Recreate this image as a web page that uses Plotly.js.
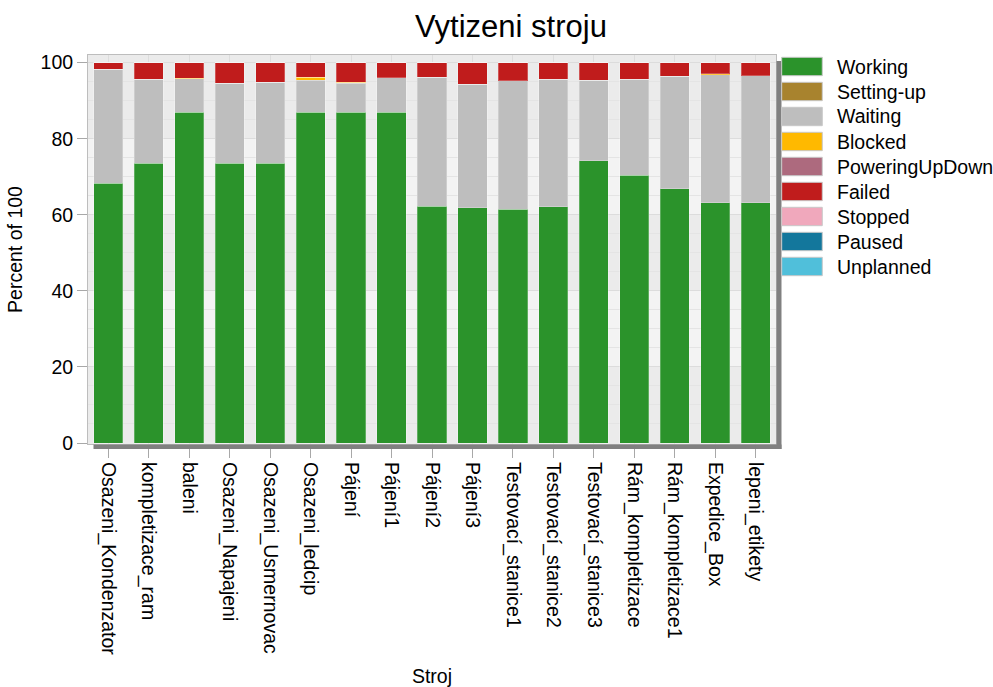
<!DOCTYPE html>
<html>
<head>
<meta charset="utf-8">
<script src="https://cdn.plot.ly/plotly-3.0.1.min.js"></script>
<style>html,body{margin:0;padding:0;background:#fff;}#chart{width:993px;height:687px;}</style>
</head>
<body>
<div id="chart"></div>
<script>
// ---- data ----
const categories = ["Osazeni_Kondenzator","kompletizace_ram","baleni","Osazeni_Napajeni","Osazeni_Usmernovac","Osazeni_ledcip","Pájení","Pájení1","Pájení2","Pájení3","Testovací_stanice1","Testovací_stanice2","Testovací_stanice3","Rám_kompletizace","Rám_kompletizace1","Expedice_Box","lepeni_etikety"];
const working        = [68.3,73.6,86.9,73.6,73.6,86.9,86.9,86.9,62.3,61.8,61.5,62.1,74.2,70.4,66.8,63.2,63.2];
const settingUp      = [0,0,0,0,0,0,0,0,0,0,0,0,0,0,0,0,0];
const waiting        = [30.0,22.0,8.8,21.0,21.3,8.4,7.7,9.1,33.8,32.5,33.7,33.5,21.1,25.2,29.6,33.6,33.4];
const blocked        = [0,0,0.2,0,0,0.9,0.25,0,0,0,0,0,0,0,0,0.3,0];
const poweringUpDown = [0,0,0,0,0,0,0,0,0,0,0,0,0,0,0,0,0];
const failed         = [1.7,4.4,4.1,5.4,5.1,3.8,5.15,4.0,3.9,5.7,4.8,4.4,4.7,4.4,3.6,2.9,3.4];
const stopped        = [0,0,0,0,0,0,0,0,0,0,0,0,0,0,0,0,0];
const paused         = [0,0,0,0,0,0,0,0,0,0,0,0,0,0,0,0,0];
const unplanned      = [0,0,0,0,0,0,0,0,0,0,0,0,0,0,0,0,0];
const seriesNames  = ["Working","Setting-up","Waiting","Blocked","PoweringUpDown","Failed","Stopped","Paused","Unplanned"];
const seriesValues = [working,settingUp,waiting,blocked,poweringUpDown,failed,stopped,paused,unplanned];
const seriesColors = ["#2b932b","#a8832e","#bebebe","#ffb900","#ad6a7e","#c01c1c","#f0a8bc","#13779c","#50bfda"];
const yTicks = [0,20,40,60,80,100];

// ---- layout geometry ----
const W = 993, H = 687;
const M = {l: 87.5, r: 217, t: 55, b: 243};
const pw = W - M.l - M.r, ph = H - M.t - M.b;
const FONT = "Liberation Sans, Arial, sans-serif";
const FS = 19.5;

const traces = seriesNames.map((n, i) => ({
  type: "bar", name: n, x: categories, y: seriesValues[i],
  marker: {color: seriesColors[i], line: {color: "rgba(255,255,255,0.25)", width: 1}},
  showlegend: false, hoverinfo: "x+y+name"
}));

const shapes = [];
// alternating background bands
const yTop = 102.0, yBot = -0.26;
for (let k = 0; k < yTicks.length - 1; k += 2) {
  const lo = k === 0 ? yBot : yTicks[k];
  const hi = yTicks[k + 1];
  shapes.push({type: "rect", xref: "paper", yref: "y", x0: 0, x1: 1, y0: lo, y1: hi, fillcolor: "#ebebeb", line: {width: 0}, layer: "below"});
}
shapes.push({type: "rect", xref: "paper", yref: "y", x0: 0, x1: 1, y0: 100, y1: yTop, fillcolor: "#ebebeb", line: {width: 0}, layer: "below"});
// drop shadow
const sh = 5;
shapes.push({type: "rect", xref: "paper", yref: "paper", x0: 1 + 0.5/pw, x1: 1 + (sh+0.5)/pw, y0: -sh/ph, y1: 1 - 6/ph, fillcolor: "#808080", line: {width: 0}, layer: "above"});
shapes.push({type: "rect", xref: "paper", yref: "paper", x0: 5.5/pw, x1: 1 + (sh+0.5)/pw, y0: -sh/ph, y1: -0.5/ph, fillcolor: "#808080", line: {width: 0}, layer: "above"});

// custom legend (swatches + labels built from series arrays)
const annotations = [];
const legX0 = 781.7, legX1 = 822.3, legTop = 57.3, legH = 18.4, legStep = 25, legTextX = 835;
seriesNames.forEach((n, i) => {
  const top = legTop + legStep * i;
  shapes.push({type: "rect", xref: "paper", yref: "paper",
    x0: (legX0 - M.l) / pw, x1: (legX1 - M.l) / pw,
    y0: (H - M.b - (top + legH)) / ph, y1: (H - M.b - top) / ph,
    fillcolor: seriesColors[i], line: {color: "#c8c8c8", width: 1}, layer: "above"});
  annotations.push({xref: "paper", yref: "paper", x: (legTextX - M.l) / pw, y: (H - M.b - (top + legH / 2)) / ph,
    xanchor: "left", yanchor: "middle", text: n, showarrow: false, font: {family: FONT, size: FS, color: "#000"}});
});

const layout = {
  width: W, height: H, margin: M,
  paper_bgcolor: "#fff", plot_bgcolor: "#f3f3f3",
  font: {family: FONT, size: FS, color: "#000"},
  barmode: "stack", bargap: 0.28,
  title: {text: "Vytizeni stroju", font: {family: FONT, size: 31, color: "#000"}, xref: "container", x: 0.5146, xanchor: "center", yref: "container", y: 1 - 26/H, yanchor: "middle"},
  xaxis: {
    title: {text: "Stroj", font: {size: FS}, standoff: 20},
    tickangle: 90, ticks: "outside", ticklen: 13, tickcolor: "#a8a8a8", tickwidth: 1,
    showgrid: true, gridcolor: "#dddddd", gridwidth: 1,
    showline: true, mirror: true, linecolor: "#bdbdbd", linewidth: 1,
    tickfont: {size: FS}, automargin: false
  },
  yaxis: {
    title: {text: "Percent of 100", font: {size: FS}, standoff: 12},
    range: [yBot, yTop], tickvals: yTicks, ticktext: yTicks.map(String),
    ticks: "outside", ticklen: 10, tickcolor: "#a8a8a8", tickwidth: 1,
    showgrid: true, gridcolor: "#dcdcdc", gridwidth: 1,
    minor: {dtick: 5, tick0: 0, showgrid: true, gridcolor: "#e4e4e4", gridwidth: 1},
    zeroline: false,
    showline: true, mirror: true, linecolor: "#bdbdbd", linewidth: 1,
    tickfont: {size: FS}, automargin: false
  },
  shapes: shapes, annotations: annotations, showlegend: false
};

Plotly.newPlot("chart", traces, layout, {displayModeBar: false, staticPlot: true});
</script>
</body>
</html>
